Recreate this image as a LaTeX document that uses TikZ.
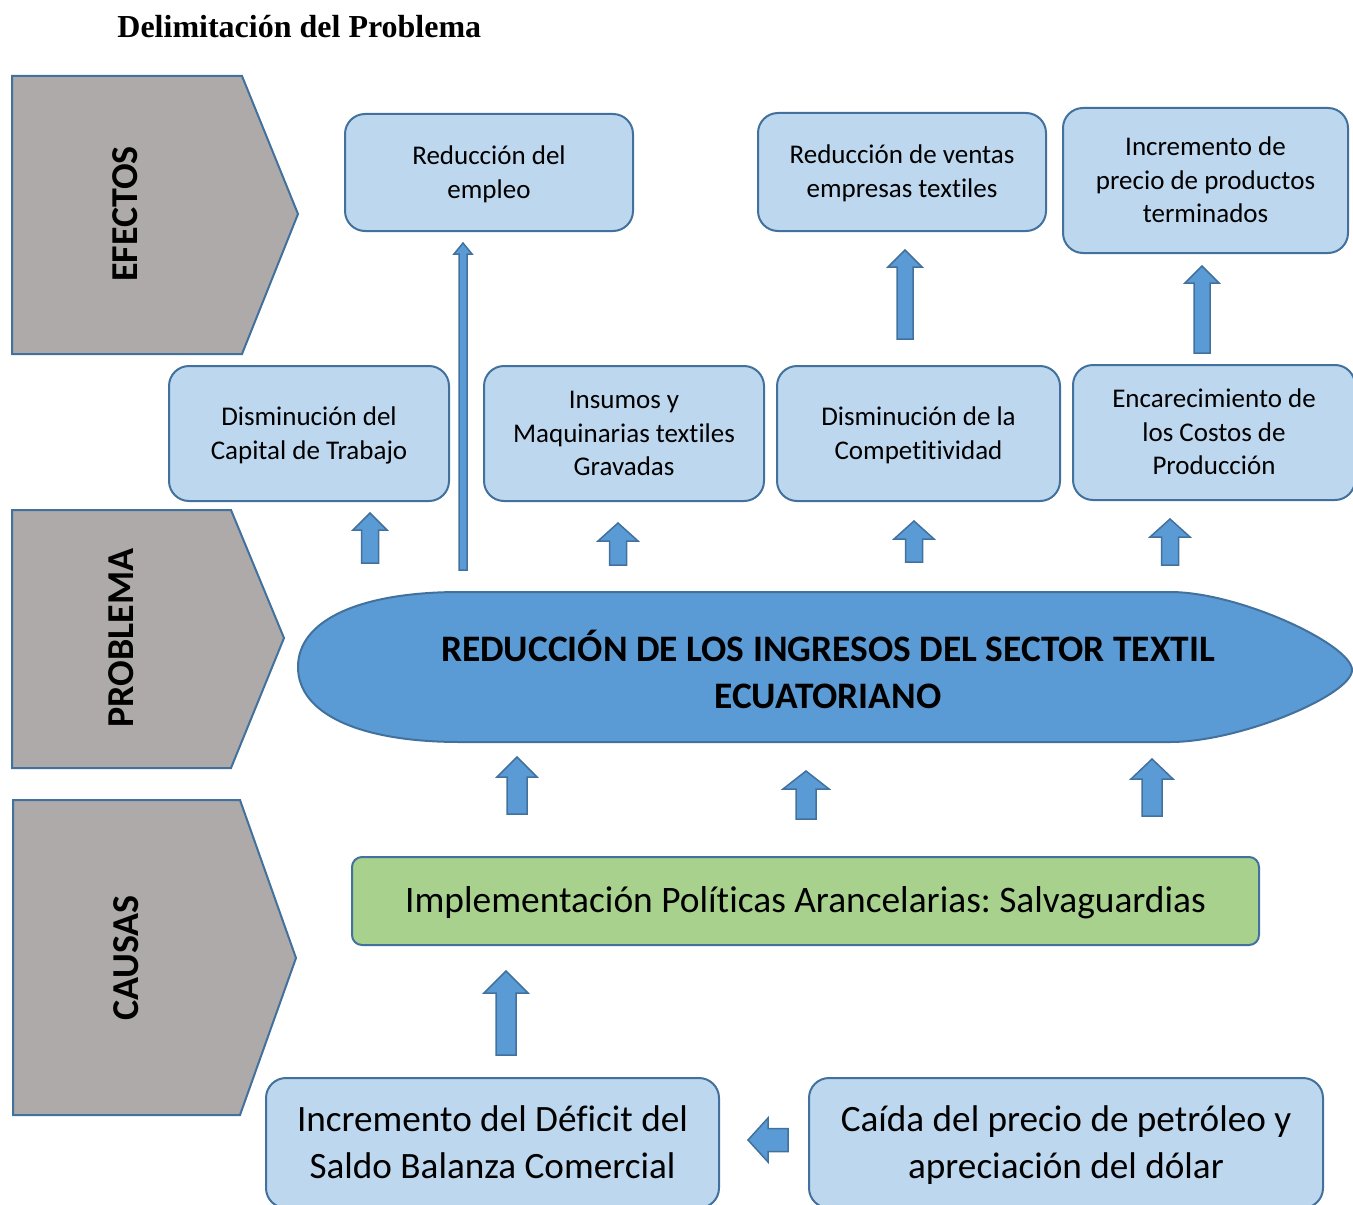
\documentclass[tikz,border=0pt]{standalone}
\usepackage{fontspec}
\setmainfont[Ligatures={NoCommon}]{Carlito}
\newfontfamily\tnr{Liberation Serif}
\frenchspacing
\newcommand{\tst}{\rule{0pt}{0.76\baselineskip}}
\newcommand{\bst}{\rule[-0.24\baselineskip]{0pt}{0.24\baselineskip}}
\definecolor{boxfill}{HTML}{BDD7EE}
\definecolor{edge}{HTML}{41719C}
\definecolor{arrfill}{HTML}{5B9BD5}
\definecolor{greyfill}{HTML}{AEAAAA}
\definecolor{greenfill}{HTML}{A9D18E}
\newcommand{\uparrowshape}[6]{%
  \draw[blockarr] (#1,#2) -- ({#1+#4},{#2+#6}) -- ({#1+#5},{#2+#6}) -- ({#1+#5},#3) -- ({#1-#5},#3) -- ({#1-#5},{#2+#6}) -- ({#1-#4},{#2+#6}) -- cycle;}
\tikzset{
  bluebox/.style={draw=edge, fill=boxfill, line width=1pt, rounded corners=10pt, align=center, inner sep=0pt},
  smalltext/.style={font=\fontsize{13.5}{16.8}\selectfont},
  bigtext/.style={font=\fontsize{18.6}{23.5}\selectfont},
  sidebox/.style={draw=edge, fill=greyfill, line width=1pt},
  sidelabel/.style={rotate=90, font=\bfseries\fontsize{19}{21}\selectfont},
  blockarr/.style={draw=edge, fill=arrfill, line width=0.75pt, line join=miter},
}
\begin{document}
\begin{tikzpicture}[x=0.5pt,y=-0.5pt]
\useasboundingbox (0,0) rectangle (1353,1204);
\clip (0,0) rectangle (1353,1204);

% title
\node[anchor=base west, inner sep=0pt, font=\tnr\bfseries\fontsize{16}{19}\selectfont] (title) at (117,38) {Delimitación del Problema};

% side pentagons
\draw[sidebox] (12,76) -- (242,76) -- (298,214) -- (242,354) -- (12,354) -- cycle;
\draw[sidebox] (12,510) -- (231,510) -- (284,638) -- (231,768) -- (12,768) -- cycle;
\draw[sidebox] (13,800) -- (240,800) -- (296,958) -- (240,1115) -- (13,1115) -- cycle;
\node[sidelabel] (lefe) at (125,214) {EFECTOS};
\node[sidelabel] (lpro) at (121,638) {PROBLEMA};
\node[sidelabel] (lcau) at (126,958) {CAUSAS};

% effects
\node[bluebox, smalltext, minimum width=144pt, minimum height=58.5pt] (e1) at (489,172.5) {\tst Reducción del\\empleo\bst};
\node[bluebox, smalltext, minimum width=144pt, minimum height=59pt] (e2) at (902,172) {\tst Reducción de ventas\\empresas textiles\bst};
\node[bluebox, smalltext, minimum width=142.5pt, minimum height=72.5pt] (e3) at (1205.5,180.5) {\tst Incremento de\\precio de productos\\terminados\bst};

% middle boxes
\node[bluebox, smalltext, minimum width=140pt, minimum height=67.5pt] (m1) at (309,433.5) {\tst Disminución del\\Capital de Trabajo\bst};
\node[bluebox, smalltext, minimum width=140pt, minimum height=67.5pt] (m2) at (624,433.5) {\tst Insumos y\\Maquinarias textiles\\Gravadas\bst};
\node[bluebox, smalltext, minimum width=141.5pt, minimum height=67.5pt] (m3) at (918.5,433.5) {\tst Disminución de la\\Competitividad\bst};
\node[bluebox, smalltext, minimum width=141pt, minimum height=67.5pt] (m4) at (1214,432.5) {\tst Encarecimiento de\\los Costos de\\Producción\bst};

% problem oval
\draw[draw=edge, fill=arrfill, line width=1pt]
  (298,667) .. controls (298,620) and (360,592) .. (460,592)
  -- (1170,592) .. controls (1240,592) and (1352,645) .. (1352,670)
  .. controls (1352,695) and (1240,742) .. (1170,742)
  -- (460,742) .. controls (360,742) and (298,714) .. (298,667) -- cycle;
\node[align=center, inner sep=0pt, font=\bfseries\fontsize{18.7}{23.5}\selectfont] (probtext) at (828,673) {\tst REDUCCIÓN DE LOS INGRESOS DEL SECTOR TEXTIL\\ECUATORIANO\bst};

% cause
\node[draw=edge, fill=greenfill, line width=1pt, rounded corners=5pt, minimum width=453.5pt, minimum height=44pt, inner sep=0pt, font=\fontsize{18.7}{22}\selectfont] (cause) at (805.5,901) {\tst Implementación Políticas Arancelarias: Salvaguardias\bst};

\node[bluebox, bigtext, minimum width=226.5pt, minimum height=65pt] (b1) at (492.5,1143) {\tst Incremento del Déficit del\\Saldo Balanza Comercial\bst};
\node[bluebox, bigtext, minimum width=257pt, minimum height=65pt] (b2) at (1066,1143) {\tst Caída del precio de petróleo y\\apreciación del dólar\bst};

% block arrows
\uparrowshape{370}{513}{563}{17}{8.5}{17}
\uparrowshape{463}{243}{570}{9}{4}{11}
\uparrowshape{618}{523}{565}{20}{8.5}{18}
\uparrowshape{914}{521}{562}{20}{8.5}{18}
\uparrowshape{1170}{519}{565}{20}{8.5}{18}
\uparrowshape{905}{250}{339}{17}{8}{17}
\uparrowshape{1202}{266}{353}{17}{8}{17}
\uparrowshape{517}{757}{814}{20}{10}{20}
\uparrowshape{806}{771}{819}{23}{10}{18}
\uparrowshape{1152}{759}{816}{21}{10}{20}
\uparrowshape{506}{971}{1055}{22}{10}{22}
\draw[blockarr] (748,1140) -- (768,1118) -- (768,1128.5) -- (788,1128.5) -- (788,1151.5) -- (768,1151.5) -- (768,1162) -- cycle;
\end{tikzpicture}
\end{document}
